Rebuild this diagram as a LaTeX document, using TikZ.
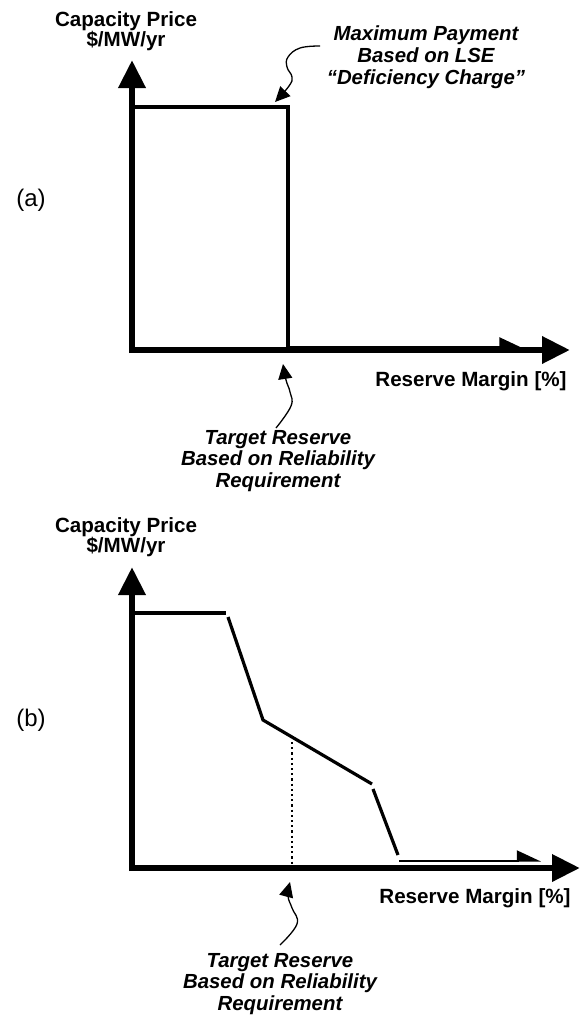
\documentclass[tikz,border=0pt]{standalone}
\usepackage{fontspec}
\setmainfont{Liberation Sans}
\usetikzlibrary{arrows.meta}
\newcommand\lblfont{\fontsize{20.6}{21.5}\selectfont\bfseries}
\newcommand\annfont{\fontsize{20.4}{21.8}\selectfont\bfseries\itshape}
\newcommand\tagfont{\fontsize{24}{26}\selectfont}
\tikzset{
  axisline/.style={line width=6.5pt, -{Triangle[length=28pt,width=26pt]}},
  curveline/.style={line width=3.2pt},
  thinarrow/.style={line width=2.4pt, -{Triangle[length=22pt,width=20pt,harpoon]}},
  pointer/.style={line width=1.3pt, -{Triangle[length=15pt,width=14pt]}},
  lbl/.style={font=\lblfont, align=center, inner sep=0pt},
  ann/.style={font=\annfont, align=center, inner sep=0pt},
  tag/.style={font=\tagfont, inner sep=0pt},
}
\begin{document}
\begin{tikzpicture}[x=1pt,y=-1pt]
\useasboundingbox (0,0) rectangle (585,1017);
% ---------- panel (a) ----------
\draw[axisline] (132,353) -- (132,60);
\draw[axisline] (129,350) -- (570,350);
\draw[curveline, line join=miter] (133,107) -- (288,107) -- (288,349);
\draw[thinarrow] (286,347.5) -- (524,347.5);
\node[lbl] (aylab) at (126,31) {Capacity Price\\[-1pt]\$/MW/yr};
\node[tag] (atag) at (31,200) {(a)};
\node[lbl] (axlab) at (471,381) {Reserve Margin [\%]};
\node[ann] (amax) at (426,57) {Maximum Payment\\Based on LSE\\“Deficiency Charge”};
\node[ann] (atgt) at (278,461) {Target Reserve\\Based on Reliability\\Requirement};
\coordinate (amaxs) at (320,46);
\coordinate (amaxt) at (275,102);
\coordinate (atgts) at (276,428);
\coordinate (atgtt) at (283,364);
\draw[pointer] plot[smooth, tension=0.7] coordinates {(amaxs) (300,48) (288,57) (287,67) (292,77) (289,86) (amaxt)};
\draw[pointer] plot[smooth, tension=0.7] coordinates {(atgts) (291,406) (290,392) (286,380) (atgtt)};
% ---------- panel (b) ----------
\draw[axisline] (132,871) -- (132,567);
\draw[axisline] (129,868) -- (580,868);
\coordinate (b1) at (133,613);
\coordinate (b2) at (226,613);
\coordinate (b3) at (228,617);
\coordinate (b4) at (263,720);
\coordinate (b5) at (372,784);
\coordinate (b6) at (373,789);
\coordinate (b7) at (398,855);
\coordinate (b8) at (399,860.5);
\coordinate (b9) at (541,860.5);
\draw[curveline] (b1) -- (b2);
\draw[curveline, line join=miter] (b3) -- (b4) -- (b5);
\draw[curveline] (b6) -- (b7);
\draw[thinarrow, line width=2pt] (b8) -- (b9);
\draw[line width=2.2pt, dash pattern=on 2.2pt off 3pt] (292,742) -- (292,865);
\node[lbl] (bylab) at (126,537) {Capacity Price\\[-1pt]\$/MW/yr};
\node[tag] (btag) at (31,720) {(b)};
\node[lbl] (bxlab) at (475,898) {Reserve Margin [\%]};
\node[ann] (btgt) at (280,984) {Target Reserve\\Based on Reliability\\Requirement};
\coordinate (btgts) at (280,945);
\coordinate (btgtt) at (290,882);
\draw[pointer] plot[smooth, tension=0.7] coordinates {(btgts) (297,924) (292,908) (288,896) (btgtt)};
\end{tikzpicture}
\end{document}
